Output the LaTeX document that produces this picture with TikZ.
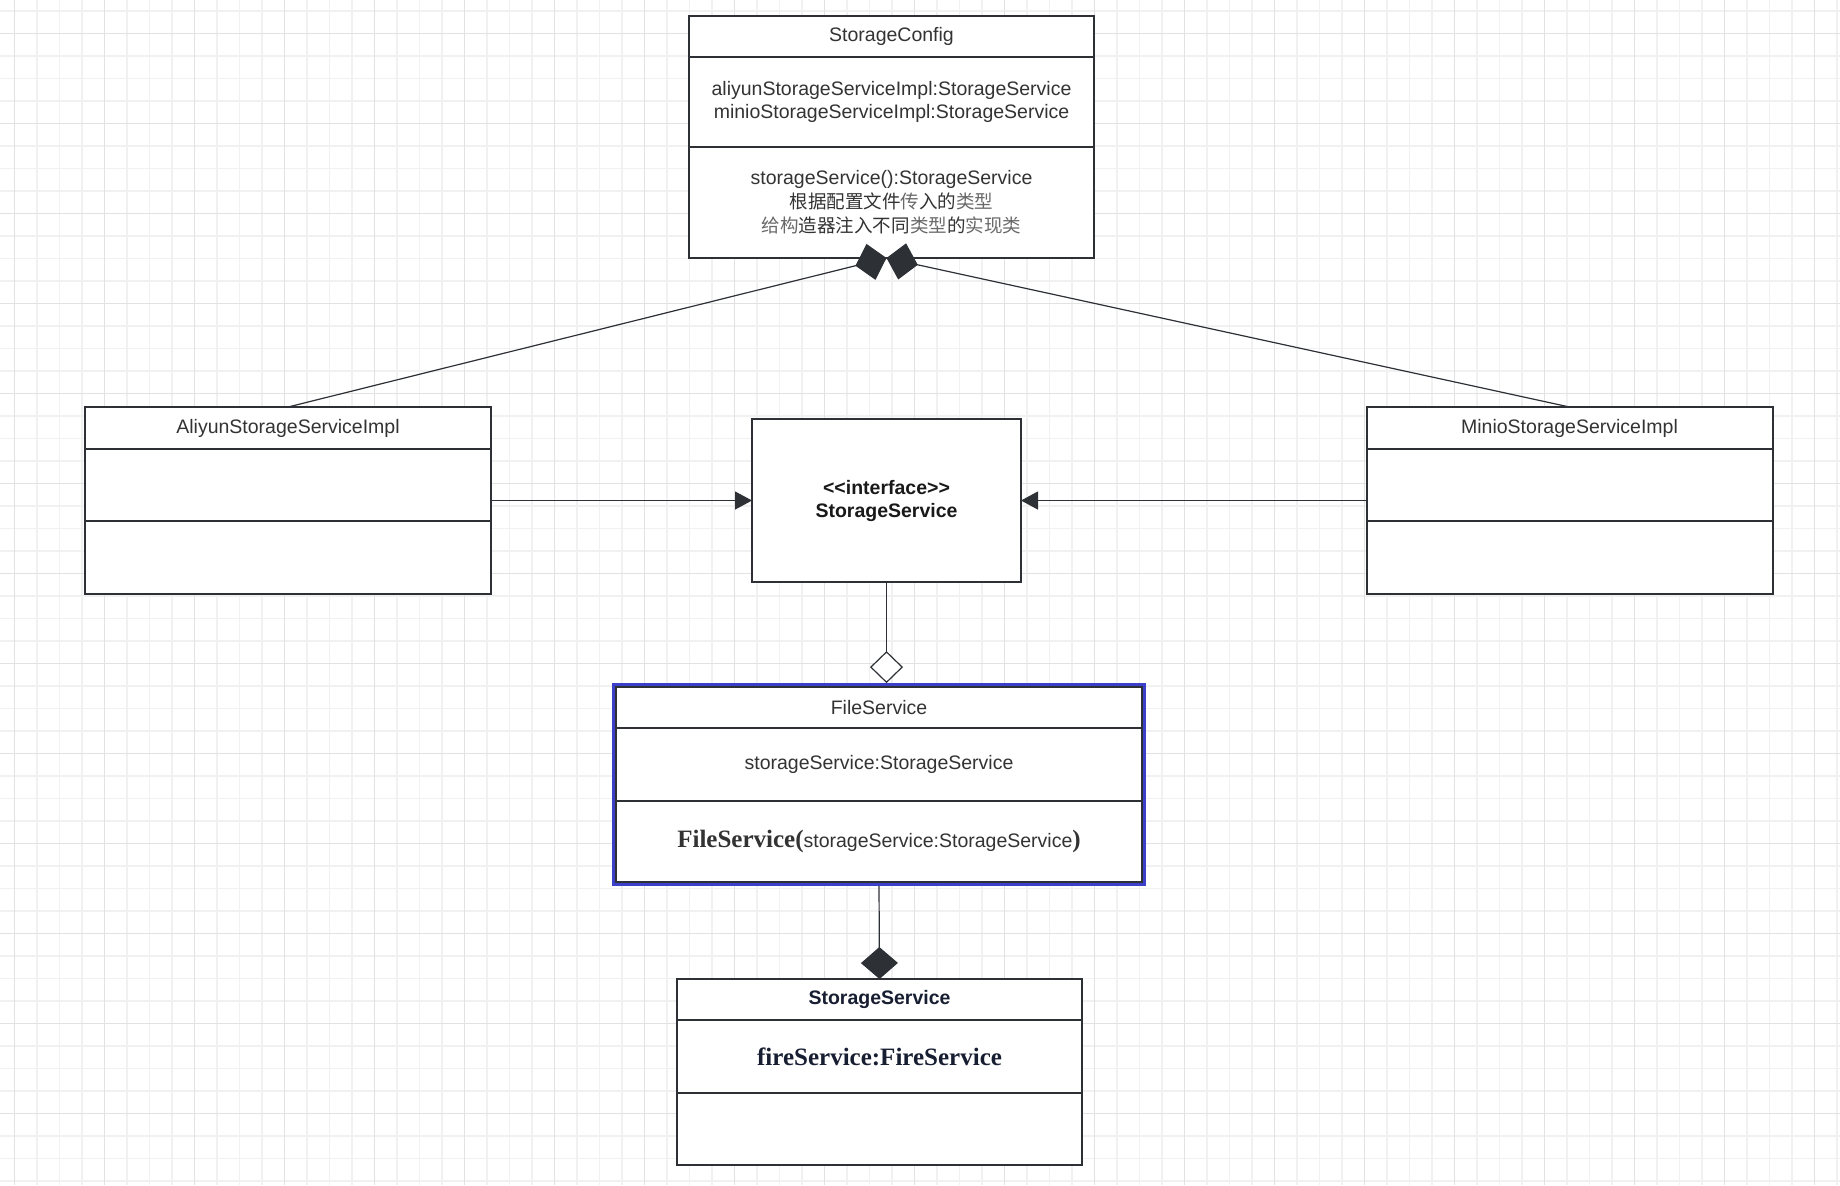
\documentclass[tikz,border=0pt]{standalone}
\usepackage{fontspec}
\setmainfont{Liberation Serif}
\setsansfont{Liberation Sans}
\newfontfamily\cjk[Scale=0.95]{Noto Sans CJK SC}
\usetikzlibrary{arrows.meta,positioning,fit}

\definecolor{umlline}{RGB}{45,48,53}
\definecolor{umltext}{RGB}{51,51,51}
\definecolor{umlpale}{RGB}{105,105,105}
\definecolor{umlnavy}{RGB}{24,30,50}
\definecolor{selblue}{RGB}{60,64,200}
\definecolor{gridminor}{RGB}{241,241,241}
\definecolor{gridmajor}{RGB}{226,226,226}

\newcommand{\pale}[1]{\textcolor{umlpale}{#1}}
\newcommand{\serifbold}{\rmfamily\bfseries\fontsize{12.5}{14}\selectfont}

\begin{document}
\begin{tikzpicture}[x=0.5pt, y=-0.5pt,
    box/.style={draw=umlline, line width=1pt, fill=white, outer sep=0pt, inner sep=2pt, align=center, text=umltext, font=\sffamily\fontsize{9.75}{11.5}\selectfont},
    boldtext/.style={font=\sffamily\bfseries\fontsize{9.75}{11.5}\selectfont},
    wide/.style={minimum width=202.5pt},
    minorline/.style={draw=gridminor, line width=0.8pt},
    majorline/.style={draw=gridmajor, line width=0.5pt},
    link/.style={draw=umlline, line width=0.6pt},
    realize/.style={link, -{Triangle[length=8.5pt, width=9pt]}},
    compose/.style={link, -{Diamond[length=16pt, width=18.5pt]}},
    aggreg/.style={link, -{Diamond[open, fill=white, length=16pt, width=16.5pt]}},
    selbox/.style={draw=selblue, line width=1.5pt, inner sep=1.2pt},
]

\useasboundingbox (0,0) rectangle (1840,1185);

% background grid
\fill[white] (0,0) rectangle (1840,1185);
\foreach \i in {0,...,81} \draw[minorline] ({14.3+22.5*\i},0) -- ({14.3+22.5*\i},1185);
\foreach \j in {0,...,52} \draw[minorline] (0,{11+22.5*\j}) -- (1840,{11+22.5*\j});
\foreach \i in {0,...,20} \draw[majorline] ({14.3+90*\i},0) -- ({14.3+90*\i},1185);
\foreach \j in {0,...,12} \draw[majorline] (0,{33.5+90*\j}) -- (1840,{33.5+90*\j});

% StorageConfig
\node[box, wide, minimum height=20.5pt] (cfg) at (891.5,36.5) {StorageConfig};
\node[box, wide, minimum height=45pt, below=0pt of cfg] (cfgattr) {aliyunStorageServiceImpl:StorageService\\minioStorageServiceImpl:StorageService};
\node[box, wide, minimum height=55.5pt, below=0pt of cfgattr, font=\sffamily\fontsize{9.75}{12}\selectfont] (cfgops) {storageService():StorageService\\{\cjk 根据配置文件\pale{传}入的\pale{类型}}\\{\cjk \pale{给构}造器注入不同\pale{类型}的\pale{实现类}}};

% Implementations
\node[box, minimum width=203pt, minimum height=21pt] (aliyun) at (288,428) {AliyunStorageServiceImpl};
\node[box, minimum width=203pt, minimum height=36pt, below=0pt of aliyun] (aliyunattr) {};
\node[box, minimum width=203pt, minimum height=36.5pt, below=0pt of aliyunattr] (aliyunops) {};

\node[box, minimum width=203pt, minimum height=21pt] (minio) at (1569.5,428) {MinioStorageServiceImpl};
\node[box, minimum width=203pt, minimum height=36pt, below=0pt of minio] (minioattr) {};
\node[box, minimum width=203pt, minimum height=36.5pt, below=0pt of minioattr] (minioops) {};

% Interface
\node[box, boldtext, text=black!90, minimum width=134.5pt, minimum height=81.5pt] (iface) at (886.5,500.5) {<{}<interface>{}>\\StorageService};

% FileService
\node[box, minimum width=263pt, minimum height=20.5pt] (fsvc) at (879,707.5) {FileService};
\node[box, minimum width=263pt, minimum height=36.5pt, below=0pt of fsvc] (fsvcattr) {storageService:StorageService};
\node[box, minimum width=263pt, minimum height=40.5pt, below=0pt of fsvcattr] (fsvcops) {{\serifbold FileService(}storageService:StorageService{\serifbold )}};
\node[selbox, fit=(fsvc)(fsvcops)] (fsel) {};

% StorageService class
\node[box, wide, boldtext, text=umlnavy, minimum height=20.5pt] (store) at (879.5,999.5) {StorageService};
\node[box, wide, text=umlnavy, minimum height=36.5pt, below=0pt of store] (storeattr) {\serifbold fireService:FireService};
\node[box, wide, minimum height=36pt, below=0pt of storeattr] (storeops) {};

% Connectors
\coordinate (cfgjoin) at ([xshift=-2.5pt]cfgops.south);
\draw[compose] (aliyun.north) -- (cfgjoin);
\draw[compose] (minio.north) -- (cfgjoin);
\draw[realize] (iface.west -| aliyunattr.east) -- (iface.west);
\draw[realize] (iface.east -| minioattr.west) -- (iface.east);
\draw[aggreg] (iface.south) -- (iface.south |- fsel.north);
\draw[compose] (fsel.south) -- (store.north);

\end{tikzpicture}
\end{document}
